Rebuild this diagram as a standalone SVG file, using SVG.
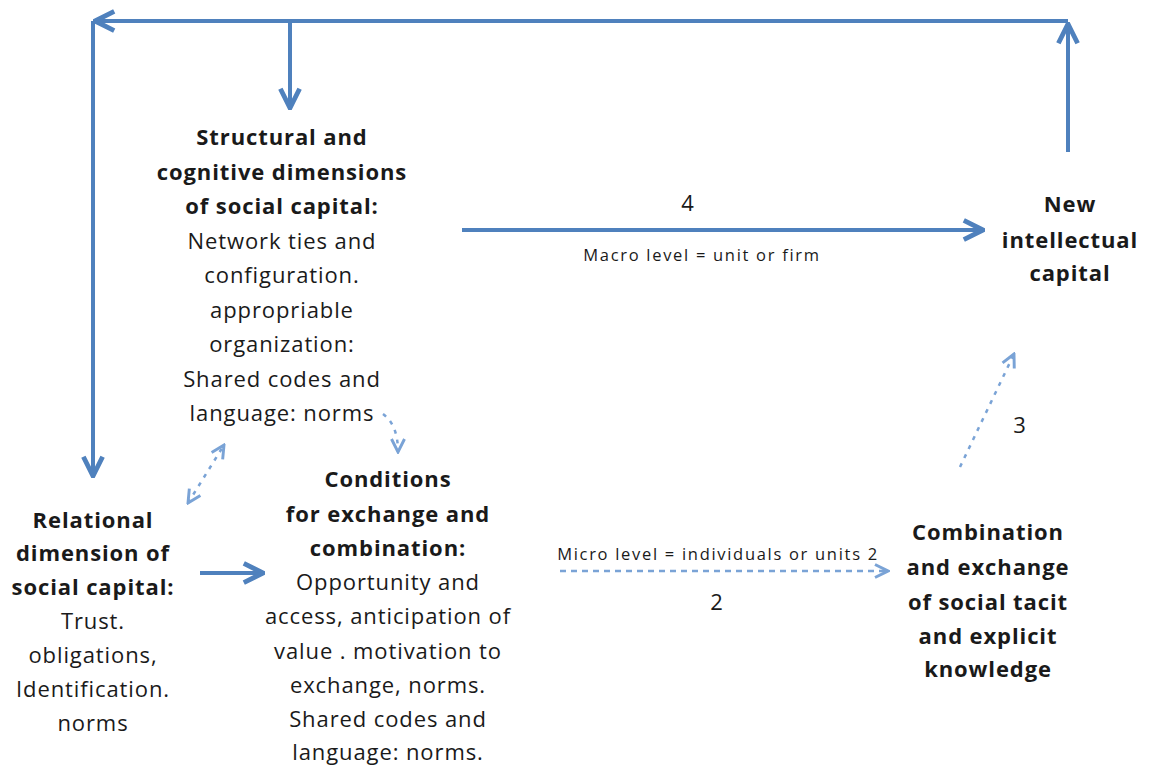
<svg xmlns="http://www.w3.org/2000/svg" width="1151" height="767" viewBox="0 0 1151 767">
<style>
.t{font-family:"Open Sans","Liberation Sans",Arial,sans-serif;font-size:22px;fill:#1a1a1a;text-anchor:middle;letter-spacing:0.9px}
.b{font-weight:bold}
.s{font-family:"Open Sans","Liberation Sans",Arial,sans-serif;font-size:16.5px;fill:#1a1a1a;text-anchor:middle;letter-spacing:1.7px}
.solid{stroke:#4f81bd;stroke-width:4;fill:none}
.dash{stroke:#7aa3d6;stroke-width:2.5;fill:none;stroke-dasharray:6 5}
.dot{stroke:#7aa3d6;stroke-width:2.5;fill:none;stroke-dasharray:4 6}
</style>
<defs>
<marker id="ah" viewBox="0 0 10 10" refX="9" refY="5" markerWidth="6" markerHeight="6" orient="auto-start-reverse" markerUnits="strokeWidth">
<path d="M1,1 L9,5 L1,9" fill="none" stroke="#4f81bd" stroke-width="2"/>
</marker>
<marker id="ahd" viewBox="0 0 10 10" refX="9" refY="5" markerWidth="6.5" markerHeight="6.5" orient="auto-start-reverse" markerUnits="strokeWidth">
<path d="M1,1 L9,5 L1,9" fill="none" stroke="#7aa3d6" stroke-width="1.8"/>
</marker>
</defs>
<rect width="1151" height="767" fill="#fff"/>
<g id="connectors">
<path class="solid" d="M1068,152 L1068,24" marker-end="url(#ah)"/>
<path class="solid" d="M1068,21 L95,21" marker-end="url(#ah)"/>
<path class="solid" d="M93,21 L93,476" marker-end="url(#ah)"/>
<path class="solid" d="M290,21 L290,108" marker-end="url(#ah)"/>
<path class="solid" d="M462,230 L983,230" marker-end="url(#ah)"/>
<path class="solid" d="M200,573 L263,573" marker-end="url(#ah)"/>
<path class="dash" d="M560,571 L888,571" marker-end="url(#ahd)"/>
<path class="dot" d="M960,467 L1014,354" marker-end="url(#ahd)"/>
<path class="dot" d="M188,503 L224,445" marker-start="url(#ahd)" marker-end="url(#ahd)"/>
<path class="dot" d="M383,414 Q398,425 398,452" marker-end="url(#ahd)"/>
</g>
<g id="structural">
<text class="t b" x="282" y="145">Structural and</text>
<text class="t b" x="282" y="180">cognitive dimensions</text>
<text class="t b" x="282" y="214">of social capital:</text>
<text class="t" x="282" y="249">Network ties and</text>
<text class="t" x="282" y="283">configuration.</text>
<text class="t" x="282" y="318">appropriable</text>
<text class="t" x="282" y="352">organization:</text>
<text class="t" x="282" y="387">Shared codes and</text>
<text class="t" x="282" y="421">language: norms</text>
</g>
<g id="relational">
<text class="t b" x="93" y="528">Relational</text>
<text class="t b" x="93" y="561">dimension of</text>
<text class="t b" x="93" y="595">social capital:</text>
<text class="t" x="93" y="629">Trust.</text>
<text class="t" x="93" y="663">obligations,</text>
<text class="t" x="93" y="697">Identification.</text>
<text class="t" x="93" y="731">norms</text>
</g>
<g id="conditions">
<text class="t b" x="388" y="487">Conditions</text>
<text class="t b" x="388" y="522">for exchange and</text>
<text class="t b" x="388" y="556">combination:</text>
<text class="t" x="388" y="590">Opportunity and</text>
<text class="t" x="388" y="624">access, anticipation of</text>
<text class="t" x="388" y="659">value . motivation to</text>
<text class="t" x="388" y="693">exchange, norms.</text>
<text class="t" x="388" y="727">Shared codes and</text>
<text class="t" x="388" y="760">language: norms.</text>
</g>
<g id="combination">
<text class="t b" x="988" y="540">Combination</text>
<text class="t b" x="988" y="575">and exchange</text>
<text class="t b" x="988" y="610">of social tacit</text>
<text class="t b" x="988" y="644">and explicit</text>
<text class="t b" x="988" y="677">knowledge</text>
</g>
<g id="new-capital">
<text class="t b" x="1070" y="212">New</text>
<text class="t b" x="1070" y="248">intellectual</text>
<text class="t b" x="1070" y="281">capital</text>
</g>
<g id="labels">
<text class="t" x="688" y="211">4</text>
<text class="s" x="702" y="261">Macro level = unit or firm</text>
<text class="s" x="718" y="560">Micro level = individuals or units 2</text>
<text class="t" x="717" y="610">2</text>
<text class="t" x="1020" y="433">3</text>
</g>
</svg>
